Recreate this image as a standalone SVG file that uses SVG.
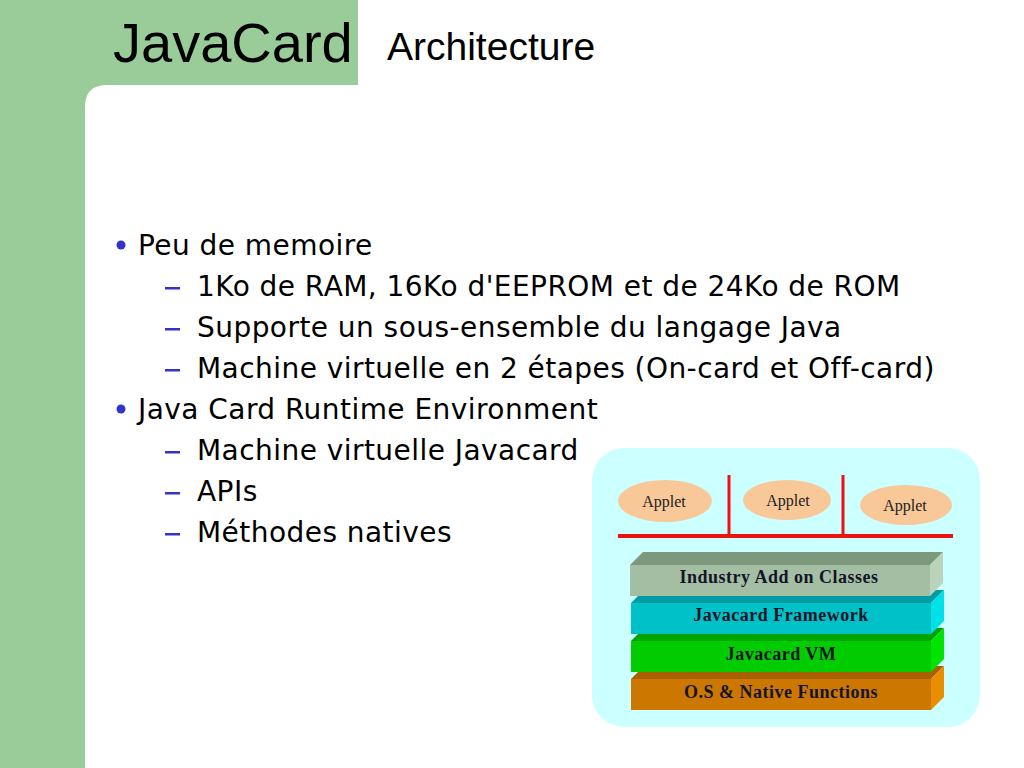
<svg xmlns="http://www.w3.org/2000/svg" width="1024" height="768" viewBox="0 0 1024 768">
<style>
.title{font-family:"Liberation Sans",Arial,sans-serif;fill:#000}
.b{font-family:"DejaVu Sans",Verdana,sans-serif;font-size:28px;fill:#000;letter-spacing:0.45px}
.dot{fill:#3333cc}
.dash{fill:#3333cc}
.applet{fill:#f8c898}
.atext{font-family:"Liberation Serif","Times New Roman",serif;font-size:16px;fill:#222;text-anchor:middle}
.ltext{font-family:"Liberation Serif","Times New Roman",serif;font-size:18px;font-weight:bold;fill:#141428;text-anchor:middle;letter-spacing:0.5px}
.red{stroke:#ee1111;fill:none}
</style>
<rect width="1024" height="768" fill="#ffffff"/>
<path d="M0,0 H358 V85 H107 Q85,85 85,107 V768 H0 Z" fill="#99cc99"/>
<text class="title" x="113" y="62" font-size="56">JavaCard</text>
<text class="title" x="387" y="60" font-size="39">Architecture</text>

<g id="bullets">
<circle class="dot" cx="121" cy="245" r="4.5"/>
<text class="b" x="138" y="255">Peu de memoire</text>
<rect class="dash" x="165" y="287" width="15" height="2.5"/>
<text class="b" x="197" y="296">1Ko de RAM, 16Ko d'EEPROM et de 24Ko de ROM</text>
<rect class="dash" x="165" y="328" width="15" height="2.5"/>
<text class="b" x="197" y="337">Supporte un sous-ensemble du langage Java</text>
<rect class="dash" x="165" y="369" width="15" height="2.5"/>
<text class="b" x="197" y="378">Machine virtuelle en 2 étapes (On-card et Off-card)</text>
<circle class="dot" cx="121" cy="409" r="4.5"/>
<text class="b" x="138" y="419">Java Card Runtime Environment</text>
<rect class="dash" x="165" y="451" width="15" height="2.5"/>
<text class="b" x="197" y="460">Machine virtuelle Javacard</text>
<rect class="dash" x="165" y="492" width="15" height="2.5"/>
<text class="b" x="197" y="501">APIs</text>
<rect class="dash" x="165" y="533" width="15" height="2.5"/>
<text class="b" x="197" y="542">Méthodes natives</text>
</g>

<g id="panel">
<rect x="592" y="448" width="388" height="279" rx="32" fill="#ccffff"/>
</g>

<g id="connectors">
<line class="red" x1="618" y1="536" x2="953" y2="536" stroke-width="4"/>
<line class="red" x1="729" y1="475" x2="729" y2="536" stroke-width="3"/>
<line class="red" x1="843" y1="475" x2="843" y2="536" stroke-width="3"/>
</g>

<g id="applet1">
<ellipse class="applet" cx="665" cy="501" rx="47" ry="21"/>
<text class="atext" x="664" y="507">Applet</text>
</g>
<g id="applet2">
<ellipse class="applet" cx="787" cy="500" rx="44" ry="20"/>
<text class="atext" x="788" y="506">Applet</text>
</g>
<g id="applet3">
<ellipse class="applet" cx="906" cy="505" rx="46" ry="20"/>
<text class="atext" x="905" y="511">Applet</text>
</g>

<g id="layer-os">
<polygon points="631,679 644,666 944,666 931,679" fill="#a86000"/>
<polygon points="931,679 944,666 944,697 931,710" fill="#e88e00"/>
<rect x="631" y="679" width="300" height="31" fill="#cc7700"/>
<text class="ltext" x="781" y="698">O.S &amp; Native Functions</text>
</g>
<g id="layer-vm">
<polygon points="631,641 644,628 944,628 931,641" fill="#00a400"/>
<polygon points="931,641 944,628 944,659 931,672" fill="#00e400"/>
<rect x="631" y="641" width="300" height="31" fill="#00cc00"/>
<text class="ltext" x="781" y="660">Javacard VM</text>
</g>
<g id="layer-framework">
<polygon points="631,603 644,590 944,590 931,603" fill="#009ca4"/>
<polygon points="931,603 944,590 944,621 931,634" fill="#00e0e8"/>
<rect x="631" y="603" width="300" height="31" fill="#00c0c8"/>
<text class="ltext" x="781" y="621">Javacard Framework</text>
</g>
<g id="layer-industry">
<polygon points="630,565 643,552 943,552 930,565" fill="#7e987e"/>
<polygon points="930,565 943,552 943,583 930,596" fill="#bad4ba"/>
<rect x="630" y="565" width="300" height="31" fill="#a4bea4"/>
<text class="ltext" x="779" y="583">Industry Add on Classes</text>
</g>
</svg>
